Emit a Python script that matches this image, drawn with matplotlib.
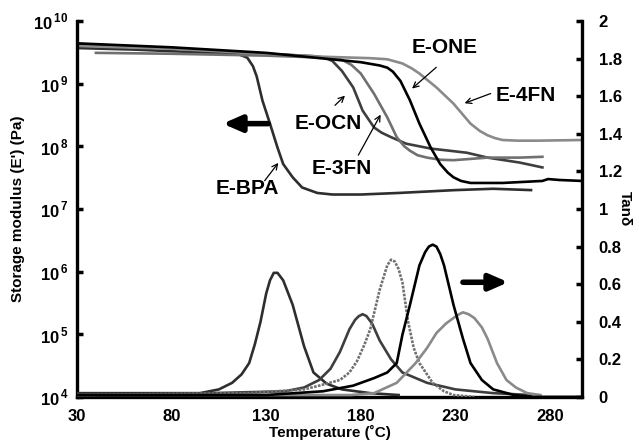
import matplotlib
matplotlib.use("Agg")
import matplotlib.pyplot as plt
from matplotlib.ticker import FixedLocator, NullLocator

plt.rcParams["font.family"] = ["Liberation Sans", "DejaVu Sans"]
plt.rcParams["font.weight"] = "bold"
plt.rcParams["mathtext.fontset"] = "custom"
plt.rcParams["mathtext.rm"] = "Liberation Sans:bold"
plt.rcParams["mathtext.bf"] = "Liberation Sans:bold"

# Storage modulus E' (Pa)
bpa_T = [30, 60, 90, 110, 116, 120, 123, 125, 128, 132, 136, 139, 144, 149, 157, 165, 180, 200,
         230, 250, 270]
bpa_E = [3.7e9, 3.5e9, 3.2e9, 3.0e9, 2.9e9, 2.6e9, 1.9e9, 1.3e9, 5.4e8, 2.3e8, 9.5e7, 5.2e7,
         3.2e7, 2.2e7, 1.8e7, 1.7e7, 1.7e7, 1.8e7, 2.0e7, 2.1e7, 2.0e7]

ocn_T = [30, 80, 130, 155, 161, 165, 170, 176, 181, 187, 191, 196, 204, 217, 236, 247, 264, 276]
ocn_E = [4.3e9, 3.7e9, 3.0e9, 2.75e9, 2.6e9, 2.3e9, 1.6e9, 8.7e8, 3.7e8, 2.0e8, 1.65e8, 1.4e8,
         1.1e8, 9.2e7, 7.9e7, 6.6e7, 5.5e7, 4.6e7]

fn3_T = [40, 80, 130, 160, 169, 175, 180, 187, 194, 199, 203, 206, 210, 215, 222, 229, 247, 264,
         276]
fn3_E = [3.1e9, 3.0e9, 2.8e9, 2.6e9, 2.5e9, 2.0e9, 1.45e9, 6.9e8, 2.9e8, 1.4e8, 1.0e8, 8.5e7,
         7.2e7, 6.6e7, 6.1e7, 6.0e7, 6.6e7, 6.6e7, 6.8e7]

one_T = [30, 80, 130, 180, 190, 194, 197, 201, 206, 211, 217, 222, 226, 229, 233, 238, 255, 276,
         279, 285, 297]
one_E = [4.4e9, 3.8e9, 3.1e9, 2.2e9, 1.95e9, 1.8e9, 1.55e9, 1.1e9, 5.4e8, 2.3e8, 9.5e7, 5.2e7,
         3.8e7, 3.2e7, 2.8e7, 2.6e7, 2.6e7, 2.8e7, 3.0e7, 2.9e7, 2.8e7]

fn4_T = [30, 80, 130, 158, 185, 194, 202, 207, 211, 220, 229, 238, 243, 247, 251, 255, 263, 273,
         297]
fn4_E = [4.0e9, 3.6e9, 3.0e9, 2.7e9, 2.55e9, 2.45e9, 2.1e9, 1.75e9, 1.45e9, 8.7e8, 4.8e8, 2.3e8,
         1.75e8, 1.5e8, 1.35e8, 1.26e8, 1.23e8, 1.23e8, 1.26e8]

# tan delta
bpa_tT = [30, 60, 95, 105, 112, 117, 121, 124, 127, 130, 132, 134, 136, 139, 144, 150, 155, 162,
          170, 185, 200]
bpa_tan = [0.02, 0.02, 0.02, 0.04, 0.075, 0.12, 0.18, 0.28, 0.40, 0.55, 0.62, 0.66, 0.66, 0.62,
           0.49, 0.27, 0.13, 0.07, 0.04, 0.02, 0.01]

ocn_tT = [30, 100, 140, 150, 158, 164, 169, 174, 177, 179, 181, 183, 186, 190, 196, 202, 215,
          230, 250, 270]
ocn_tan = [0.01, 0.02, 0.03, 0.05, 0.09, 0.15, 0.24, 0.36, 0.41, 0.43, 0.44, 0.43, 0.39, 0.30,
           0.20, 0.13, 0.075, 0.04, 0.02, 0.01]

fn3_tT = [30, 120, 150, 158, 169, 174, 178, 182, 185, 190, 194, 196, 198, 200, 202, 205, 208,
          211, 218, 224, 229, 240]
fn3_tan = [0.01, 0.02, 0.04, 0.06, 0.09, 0.13, 0.19, 0.28, 0.36, 0.57, 0.70, 0.73, 0.72, 0.68,
           0.61, 0.40, 0.26, 0.18, 0.075, 0.03, 0.01, 0.0]

one_tT = [30, 130, 160, 176, 187, 194, 199, 202, 206, 211, 214, 216, 218, 220, 222, 224, 229,
          234, 238, 244, 250, 261, 271, 297]
one_tan = [0.01, 0.01, 0.03, 0.06, 0.10, 0.13, 0.18, 0.33, 0.49, 0.70, 0.77, 0.80, 0.81, 0.80,
           0.76, 0.70, 0.49, 0.31, 0.18, 0.09, 0.04, 0.01, 0.0, 0.0]

fn4_tT = [30, 150, 175, 187, 199, 209, 215, 220, 225, 229, 232, 234, 237, 240, 244, 247, 252,
          257, 262, 268, 275]
fn4_tan = [0.01, 0.01, 0.01, 0.02, 0.075, 0.18, 0.26, 0.34, 0.39, 0.42, 0.44, 0.45, 0.44, 0.42,
           0.37, 0.31, 0.18, 0.09, 0.05, 0.02, 0.01]

x_ticks = [30, 80, 130, 180, 230, 280]
e_ticks = [1e4, 1e5, 1e6, 1e7, 1e8, 1e9, 1e10]
tan_ticks = [0, 0.2, 0.4, 0.6, 0.8, 1, 1.2, 1.4, 1.6, 1.8, 2]
tan_labels = ["0", "0.2", "0.4", "0.6", "0.8", "1", "1.2", "1.4", "1.6", "1.8", "2"]

colors = {
    "E-BPA": "#2e2e2e",
    "E-OCN": "#3e3e3e",
    "E-3FN": "#707070",
    "E-ONE": "#000000",
    "E-4FN": "#8a8a8a",
}


def plot_dma(output_file):
    fig = plt.figure(figsize=(6.39, 4.42), dpi=100)
    ax = fig.add_axes([0.1205, 0.102, 0.7905, 0.8505])
    ax2 = ax.twinx()

    lw = 1.9
    ax.plot(bpa_T, bpa_E, color=colors["E-BPA"], lw=lw)
    ax.plot(ocn_T, ocn_E, color=colors["E-OCN"], lw=lw)
    ax.plot(fn3_T, fn3_E, color=colors["E-3FN"], lw=lw)
    ax.plot(fn4_T, fn4_E, color=colors["E-4FN"], lw=lw)
    ax.plot(one_T, one_E, color=colors["E-ONE"], lw=lw)

    ax2.plot(bpa_tT, bpa_tan, color=colors["E-BPA"], lw=lw)
    ax2.plot(ocn_tT, ocn_tan, color=colors["E-OCN"], lw=lw)
    ax2.plot(fn3_tT, fn3_tan, color=colors["E-3FN"], lw=lw, ls=(0, (1, 0.5)))
    ax2.plot(fn4_tT, fn4_tan, color=colors["E-4FN"], lw=lw)
    ax2.plot(one_tT, one_tan, color=colors["E-ONE"], lw=lw)

    ax.set_yscale("log")
    ax.set_xlim(30, 297)
    ax.set_ylim(1e4, 1e10)
    ax2.set_ylim(0, 2)

    ax.xaxis.set_major_locator(FixedLocator(x_ticks))
    ax.set_xticklabels([str(t) for t in x_ticks], fontsize=12, fontweight="bold")
    ax.yaxis.set_major_locator(FixedLocator(e_ticks))
    ax.yaxis.set_minor_locator(NullLocator())
    ax.set_yticklabels([r"$10^{\,%d}$" % p for p in range(4, 11)], fontsize=12)
    ax2.yaxis.set_major_locator(FixedLocator(tan_ticks))
    ax2.set_yticklabels(tan_labels, fontsize=12, fontweight="bold")

    ax.tick_params(axis="x", length=0, pad=9)
    ax.tick_params(axis="y", direction="in", length=4, width=2.5, pad=6)
    ax2.tick_params(axis="y", direction="in", length=4, width=2.5, pad=12)

    for a in (ax, ax2):
        a.spines["top"].set_visible(False)
        for s in ("left", "right", "bottom"):
            a.spines[s].set_linewidth(2.4)
    ax.spines["right"].set_visible(False)
    ax2.spines["left"].set_visible(False)
    ax2.spines["bottom"].set_visible(False)

    ax.set_xlabel("Temperature (˚C)", fontsize=11, fontweight="bold", labelpad=0)
    ax.set_ylabel("Storage modulus (E') (Pa)", fontsize=11, fontweight="bold", labelpad=6)
    ax2.set_ylabel("Tanδ", fontsize=11, fontweight="bold", rotation=270, labelpad=7)

    # curve labels with thin arrows
    arrow = dict(arrowstyle="->", color="black", lw=0.9)
    fs = 15
    ax.text(224.5, 3.8e9, "E-ONE", fontsize=fs, fontweight="bold", ha="center", va="center")
    ax.annotate("", xy=(206, 7.8e8), xytext=(221, 1.95e9), arrowprops=arrow)
    ax.text(267, 6.5e8, "E-4FN", fontsize=fs, fontweight="bold", ha="center", va="center")
    ax.annotate("", xy=(233.5, 4.7e8), xytext=(250, 7.2e8), arrowprops=arrow)
    ax.text(163, 2.3e8, "E-OCN", fontsize=fs, fontweight="bold", ha="center", va="center")
    ax.annotate("", xy=(172.7, 6.9e8), xytext=(165.3, 4.2e8), arrowprops=arrow)
    ax.text(170, 4.4e7, "E-3FN", fontsize=fs, fontweight="bold", ha="center", va="center")
    ax.annotate("", xy=(191.2, 3.5e8), xytext=(178, 6.6e7), arrowprops=arrow)
    ax.text(120, 2.1e7, "E-BPA", fontsize=fs, fontweight="bold", ha="center", va="center")
    ax.annotate("", xy=(137.3, 5.9e7), xytext=(128.3, 2.6e7), arrowprops=arrow)

    # big direction arrows
    big = dict(arrowstyle="-|>,head_length=0.55,head_width=0.24", color="black", lw=4.0,
               mutation_scale=20, shrinkA=0, shrinkB=0)
    ax.annotate("", xy=(107, 2.3e8), xytext=(131, 2.3e8), arrowprops=big)
    ax2.annotate("", xy=(258, 0.61), xytext=(234, 0.61), arrowprops=big)

    fig.savefig(output_file, dpi=100)
    plt.close(fig)


if __name__ == "__main__":
    plot_dma("out.png")
